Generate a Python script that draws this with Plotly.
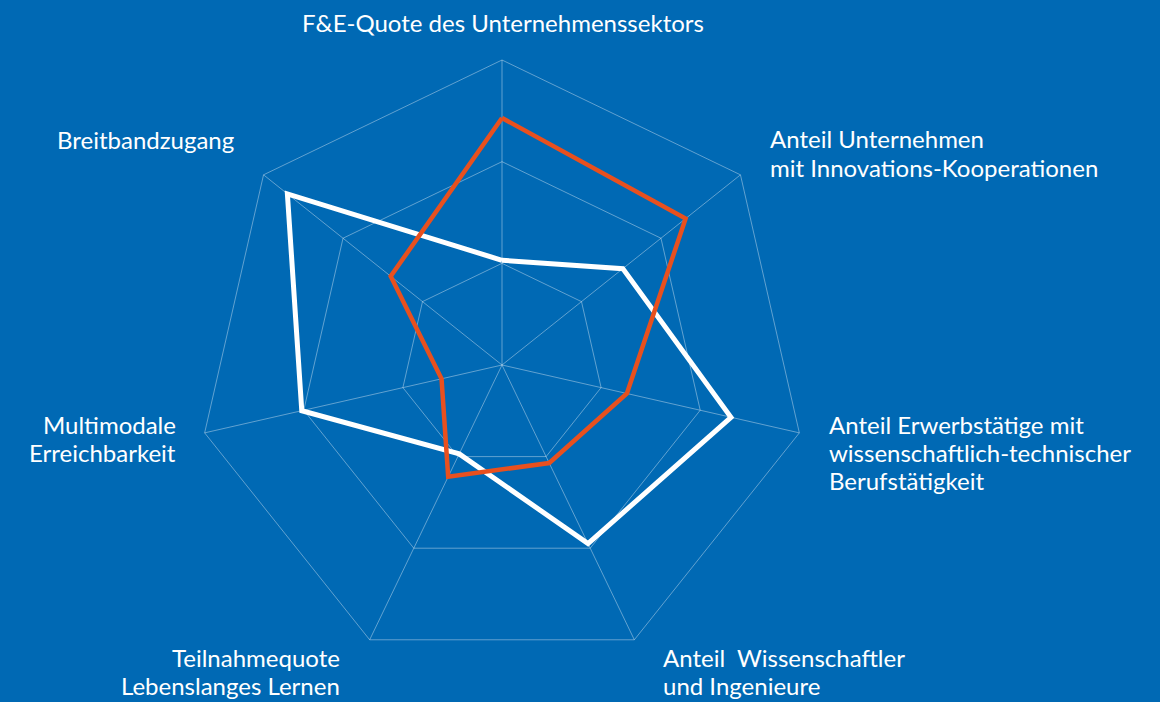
import plotly.graph_objects as go

# ---- data ----
categories = [
    "F&E-Quote des Unternehmenssektors",
    "Anteil Unternehmen<br>mit Innovations-Kooperationen",
    "Anteil Erwerbstätige mit<br>wissenschaftlich-technischer<br>Berufstätigkeit",
    "Anteil\u00a0 Wissenschaftler<br>und Ingenieure",
    "Teilnahmequote<br>Lebenslanges Lernen",
    "Multimodale<br>Erreichbarkeit",
    "Breitbandzugang",
]
white_values = [1.03, 1.52, 2.31, 1.95, 0.97, 2.02, 2.70]
orange_values = [2.43, 2.31, 1.26, 1.07, 1.22, 0.61, 1.40]
radial_ticks = [0, 1, 2, 3]

# ---- style / layout ----
W, H = 1160, 702
BG = "#0069B4"
GRID = "rgba(255,255,255,0.38)"
FONT = "Lato"
FS = 24
CX, CY, R = 502, 365, 305

# label placement per category: (x_px, anchor, [line center y_px])
label_pos = [
    (502.5, "center", [22.4]),
    (768, "left", [138.7, 167.4]),
    (827.3, "left", [424, 452.4, 480.7]),
    (660.7, "left", [657.4, 685.7]),
    (341.7, "right", [657.4, 685.7]),
    (177.7, "right", [424, 452.4]),
    (236, "right", [139]),
]

theta = categories + [categories[0]]
fig = go.Figure()
fig.add_trace(go.Scatterpolar(
    r=white_values + [white_values[0]], theta=theta, mode="lines",
    line=dict(color="#FFFFFF", width=5), hoverinfo="skip", showlegend=False))
fig.add_trace(go.Scatterpolar(
    r=orange_values + [orange_values[0]], theta=theta, mode="lines",
    line=dict(color="#E8501E", width=4.5), hoverinfo="skip", showlegend=False))

annotations = []
for cat, (x, anchor, ys) in zip(categories, label_pos):
    lines = cat.split("<br>")
    for line, y in zip(lines, ys):
        annotations.append(dict(
            text=line, x=x / W, y=1 - y / H, xref="paper", yref="paper",
            xanchor=anchor, yanchor="middle", showarrow=False,
            font=dict(family=FONT, size=FS, color="#FFFFFF")))

fig.update_layout(
    width=W, height=H, margin=dict(l=0, r=0, t=0, b=0),
    paper_bgcolor=BG, plot_bgcolor=BG,
    font=dict(family=FONT, color="#FFFFFF"),
    polar=dict(
        bgcolor=BG,
        domain=dict(x=[(CX - R) / W, (CX + R) / W], y=[1 - (CY + R) / H, 1 - (CY - R) / H]),
        gridshape="linear",
        radialaxis=dict(range=[0, 3], tickvals=radial_ticks, showticklabels=False, ticks="",
                        showline=False, gridcolor=GRID, gridwidth=1),
        angularaxis=dict(rotation=90, direction="clockwise", showticklabels=False, ticks="",
                         showline=True, linecolor=GRID, linewidth=1,
                         gridcolor=GRID, gridwidth=1),
    ),
    annotations=annotations,
)

fig.write_html("out.html")
